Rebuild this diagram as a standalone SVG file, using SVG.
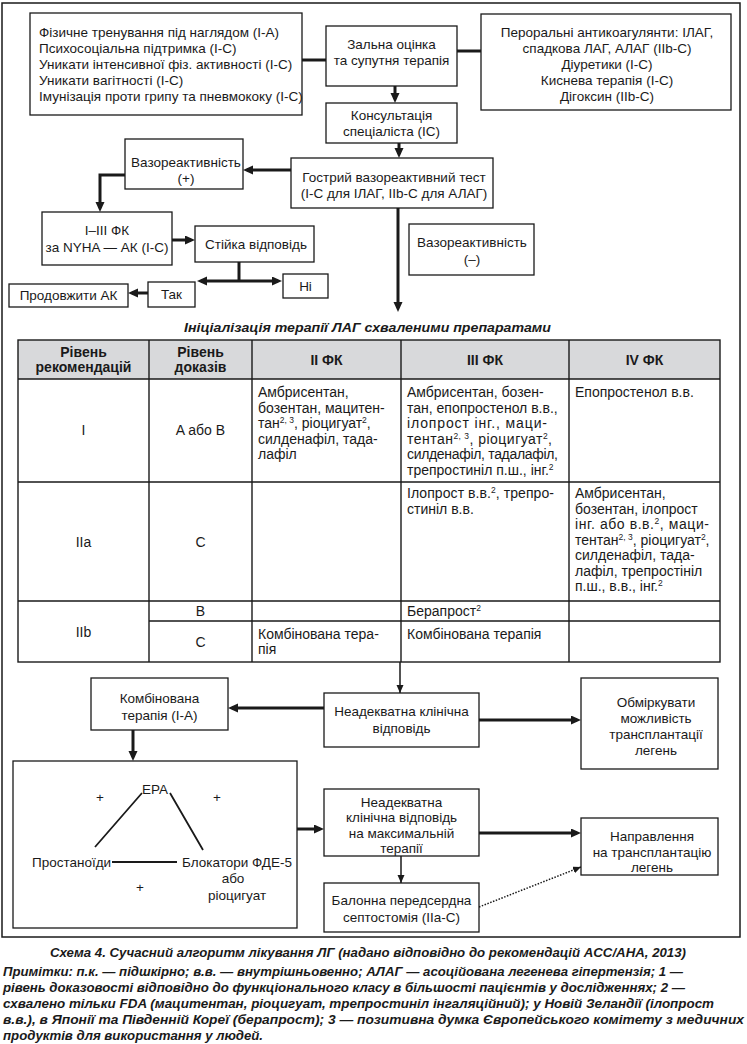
<svg xmlns="http://www.w3.org/2000/svg" width="747" height="1044" viewBox="0 0 747 1044">
<style>
.box{fill:#fff;stroke:#1a1a1a;stroke-width:1.3}
.t{font-family:"Liberation Sans",Arial,sans-serif;font-size:13.5px;fill:#1a1a1a}
.tt{font-size:14px}
.c{text-anchor:middle}
.b{font-weight:bold}
.bi{font-weight:bold;font-style:italic}
.cell{fill:none;stroke:#1a1a1a;stroke-width:1.4}
.k{fill:none;stroke:#1a1a1a;stroke-width:3}
.n{fill:none;stroke:#1a1a1a;stroke-width:1.5}
.tri{fill:none;stroke:#1a1a1a;stroke-width:1.8}
.sup{font-size:8.5px}
</style>
<defs>
<marker id="ah" markerUnits="userSpaceOnUse" markerWidth="11" markerHeight="10" refX="6" refY="4.5" orient="auto"><path d="M0,0 L10,4.5 L0,9 z" fill="#1a1a1a"/></marker>
<marker id="ahs" markerUnits="userSpaceOnUse" markerWidth="11" markerHeight="10" refX="6" refY="4.5" orient="auto-start-reverse"><path d="M0,0 L10,4.5 L0,9 z" fill="#1a1a1a"/></marker>
<marker id="at" markerUnits="userSpaceOnUse" markerWidth="9" markerHeight="8" refX="8" refY="3.5" orient="auto"><path d="M0,0 L8,3.5 L0,7 z" fill="#1a1a1a"/></marker>
</defs>
<rect x="0" y="0" width="747" height="1044" fill="#fff"/>
<rect x="2" y="3" width="738" height="934" fill="none" stroke="#1a1a1a" stroke-width="1.5"/>

<g id="connectors">
<path class="k" d="M302,60 H326"/>
<path class="k" d="M457,51 H481"/>
<path class="k" d="M395,86 V99" marker-end="url(#ah)"/>
<path class="k" d="M399,143 V154" marker-end="url(#ah)"/>
<path class="k" d="M291,170 H247" marker-end="url(#ah)"/>
<path class="k" d="M125,175 H100 V208" marker-end="url(#ah)"/>
<path class="k" d="M172,240 H191" marker-end="url(#ah)"/>
<path class="k" d="M239,262 V281"/>
<path class="k" d="M201,281 H278" marker-start="url(#ahs)" marker-end="url(#ah)"/>
<path class="k" d="M148,293 H132" marker-end="url(#ah)"/>
<path class="k" d="M398,208 V308" marker-end="url(#ah)"/>
<path class="n" d="M400,662 V693" marker-end="url(#at)"/>
<path class="k" d="M324,708 H232" marker-end="url(#ah)"/>
<path class="k" d="M479,720 H577" marker-end="url(#ah)"/>
<path class="k" d="M133,730 V757" marker-end="url(#ah)"/>
<path class="k" d="M297,829 H320" marker-end="url(#ah)"/>
<path class="k" d="M479,833 H577" marker-end="url(#ah)"/>
<path class="n" d="M401,856 V883" marker-end="url(#at)"/>
<path d="M479,907 L581,867" fill="none" stroke="#1a1a1a" stroke-width="1.5" stroke-dasharray="1.5 1.5" marker-end="url(#at)"/>
</g>

<g id="lifestyle">
<rect class="box" x="30" y="13" width="272" height="102"/>
<text class="t" x="39" y="37">Фізичне тренування під наглядом (I-A)</text>
<text class="t" x="39" y="53">Психосоціальна підтримка (I-C)</text>
<text class="t" x="39" y="69">Уникати інтенсивної фіз. активності (I-C)</text>
<text class="t" x="39" y="85">Уникати вагітності (I-C)</text>
<text class="t" x="39" y="101">Імунізація проти грипу та пневмококу (I-C)</text>
</g>
<g id="general">
<rect class="box" x="326" y="26" width="131" height="60"/>
<text class="t c" x="391.5" y="49">Зальна оцінка</text>
<text class="t c" x="391.5" y="65">та супутня терапія</text>
</g>
<g id="supportive">
<rect class="box" x="481" y="14" width="250" height="96"/>
<text class="t c" x="607" y="37">Пероральні антикоагулянти: ІЛАГ,</text>
<text class="t c" x="607" y="53">спадкова ЛАГ, АЛАГ (IIb-C)</text>
<text class="t c" x="607" y="69">Діуретики (I-C)</text>
<text class="t c" x="607" y="85">Киснева терапія (I-C)</text>
<text class="t c" x="607" y="101">Дігоксин (IIb-C)</text>
</g>
<g id="consult">
<rect class="box" x="326" y="103" width="131" height="40"/>
<text class="t c" x="391.5" y="120">Консультація</text>
<text class="t c" x="391.5" y="136">спеціаліста (IC)</text>
</g>
<g id="vasotest">
<rect class="box" x="291" y="158" width="202" height="50"/>
<text class="t c" x="394" y="182">Гострий вазореактивний тест</text>
<text class="t c" x="394" y="198">(I-C для ІЛАГ, IIb-C для АЛАГ)</text>
</g>
<g id="vasopos">
<rect class="box" x="125" y="139" width="118" height="50"/>
<text class="t c" x="186" y="167">Вазореактивність</text>
<text class="t c" x="186" y="183">(+)</text>
</g>
<g id="ccb">
<rect class="box" x="42" y="212" width="130" height="53"/>
<text class="t c" x="107" y="235">I–III ФК</text>
<text class="t c" x="107" y="252">за NYHA — АК (I-C)</text>
</g>
<g id="sustained">
<rect class="box" x="195" y="226" width="119" height="36"/>
<text class="t c" x="256" y="249">Стійка відповідь</text>
</g>
<g id="no">
<rect class="box" x="283" y="274" width="45" height="24"/>
<text class="t c" x="305.5" y="291">Ні</text>
</g>
<g id="yes">
<rect class="box" x="148" y="282" width="47" height="25"/>
<text class="t c" x="171.5" y="299">Так</text>
</g>
<g id="continue">
<rect class="box" x="9" y="284" width="119" height="23"/>
<text class="t c" x="68.5" y="300">Продовжити АК</text>
</g>
<g id="vasoneg">
<rect class="box" x="409" y="224" width="125" height="51"/>
<text class="t c" x="472" y="247">Вазореактивність</text>
<text class="t c" x="472" y="264">(–)</text>
</g>

<g id="table">
<text class="t bi" x="184" y="332" textLength="367" lengthAdjust="spacingAndGlyphs">Ініціалізація терапії ЛАГ схваленими препаратами</text>
<rect x="18" y="340" width="702" height="39" fill="#d8d9db"/>
<rect class="cell" x="18" y="340" width="702" height="322"/>
<path class="cell" d="M18,379 H720 M18,482 H720 M18,601 H720 M149,621 H720 M149,340 V662 M252,340 V662 M401,340 V662 M569,340 V662"/>
<text class="t tt c b" x="83.5" y="357">Рівень</text>
<text class="t tt c b" x="83.5" y="372">рекомендацій</text>
<text class="t tt c b" x="200.5" y="357">Рівень</text>
<text class="t tt c b" x="200.5" y="372">доказів</text>
<text class="t tt c b" x="326.5" y="365">II ФК</text>
<text class="t tt c b" x="485" y="365">III ФК</text>
<text class="t tt c b" x="644.5" y="365">IV ФК</text>

<text class="t tt c" x="83.5" y="435">I</text>
<text class="t tt c" x="200.5" y="435">A або B</text>
<text class="t tt" x="258" y="397">Амбрисентан,</text>
<text class="t tt" x="258" y="412.5">бозентан, мацитен-</text>
<text class="t tt" x="258" y="428">тан<tspan class="sup" dy="-5">2, 3</tspan><tspan dy="5">, ріоцигуат</tspan><tspan class="sup" dy="-5">2</tspan><tspan dy="5">,</tspan></text>
<text class="t tt" x="258" y="443.5">силденафіл, тада-</text>
<text class="t tt" x="258" y="459">лафіл</text>
<text class="t tt" x="407" y="397">Амбрисентан, бозен-</text>
<text class="t tt" x="407" y="412.5">тан, епопростенол в.в.,</text>
<text class="t tt" x="407" y="428" textLength="140" lengthAdjust="spacing">ілопрост інг., маци-</text>
<text class="t tt" x="407" y="443.5" textLength="145" lengthAdjust="spacing">тентан<tspan class="sup" dy="-5">2, 3</tspan><tspan dy="5">, ріоцигуат</tspan><tspan class="sup" dy="-5">2</tspan><tspan dy="5">,</tspan></text>
<text class="t tt" x="407" y="459" textLength="151" lengthAdjust="spacing">силденафіл, тадалафіл,</text>
<text class="t tt" x="407" y="474.5">трепростиніл п.ш., інг.<tspan class="sup" dy="-5">2</tspan></text>
<text class="t tt" x="575" y="397">Епопростенол в.в.</text>

<text class="t tt c" x="83.5" y="547">IIa</text>
<text class="t tt c" x="200.5" y="547">C</text>
<text class="t tt" x="407" y="498" textLength="147" lengthAdjust="spacing">Ілопрост в.в.<tspan class="sup" dy="-5">2</tspan><tspan dy="5">, трепро-</tspan></text>
<text class="t tt" x="407" y="513.5">стиніл в.в.</text>
<text class="t tt" x="575" y="498">Амбрисентан,</text>
<text class="t tt" x="575" y="513.5">бозентан, ілопрост</text>
<text class="t tt" x="575" y="529" textLength="134" lengthAdjust="spacing">інг. або в.в.<tspan class="sup" dy="-5">2</tspan><tspan dy="5">, маци-</tspan></text>
<text class="t tt" x="575" y="544.5">тентан<tspan class="sup" dy="-5">2, 3</tspan><tspan dy="5">, ріоцигуат</tspan><tspan class="sup" dy="-5">2</tspan><tspan dy="5">,</tspan></text>
<text class="t tt" x="575" y="560">силденафіл, тада-</text>
<text class="t tt" x="575" y="575.5">лафіл, трепростініл</text>
<text class="t tt" x="575" y="591">п.ш., в.в., інг.<tspan class="sup" dy="-5">2</tspan></text>

<text class="t tt c" x="83.5" y="637">IIb</text>
<text class="t tt c" x="200.5" y="616">B</text>
<text class="t tt c" x="200.5" y="647">C</text>
<text class="t tt" x="407" y="616">Берапрост<tspan class="sup" dy="-5">2</tspan></text>
<text class="t tt" x="258" y="639">Комбінована тера-</text>
<text class="t tt" x="258" y="654">пія</text>
<text class="t tt" x="407" y="639">Комбінована терапія</text>
</g>

<g id="combo">
<rect class="box" x="91" y="678" width="137" height="52"/>
<text class="t c" x="159.5" y="703">Комбінована</text>
<text class="t c" x="159.5" y="720">терапія (I-A)</text>
</g>
<g id="inadequate">
<rect class="box" x="324" y="693" width="155" height="54"/>
<text class="t c" x="401.5" y="716">Неадекватна клінічна</text>
<text class="t c" x="401.5" y="733">відповідь</text>
</g>
<g id="consider">
<rect class="box" x="581" y="678" width="137" height="91"/>
<text class="t c" x="656" y="707">Обміркувати</text>
<text class="t c" x="656" y="723">можливість</text>
<text class="t c" x="656" y="739">трансплантації</text>
<text class="t c" x="656" y="755">легень</text>
</g>
<g id="triangle">
<rect class="box" x="13" y="761" width="284" height="167"/>
<path class="tri" d="M142,793 L95,847 M170,793 L203,850 M112,862 H177"/>
<text class="t c" x="155" y="794">ЕРА</text>
<text class="t" x="32" y="867">Простаноїди</text>
<text class="t c" x="237" y="867">Блокатори ФДЕ-5</text>
<text class="t c" x="233" y="883">або</text>
<text class="t c" x="237" y="900">ріоцигуат</text>
<text class="t c" x="100" y="802">+</text>
<text class="t c" x="217" y="802">+</text>
<text class="t c" x="140" y="892">+</text>
</g>
<g id="inadequate-max">
<rect class="box" x="324" y="789" width="155" height="67"/>
<text class="t c" x="401.5" y="806.5">Неадекватна</text>
<text class="t c" x="401.5" y="822">клінічна відповідь</text>
<text class="t c" x="401.5" y="837.5">на максимальній</text>
<text class="t c" x="401.5" y="853">терапії</text>
</g>
<g id="referral">
<rect class="box" x="581" y="818" width="137" height="57"/>
<text class="t c" x="652" y="841">Направлення</text>
<text class="t c" x="652" y="857">на трансплантацію</text>
<text class="t c" x="652" y="872">легень</text>
</g>
<g id="septostomy">
<rect class="box" x="324" y="883" width="155" height="49"/>
<text class="t c" x="401.5" y="905">Балонна передсердна</text>
<text class="t c" x="401.5" y="922">септостомія (IIa-C)</text>
</g>

<g id="caption">
<text class="t bi" x="50" y="957" font-size="13" textLength="636" lengthAdjust="spacingAndGlyphs">Схема 4. Сучасний алгоритм лікування ЛГ (надано відповідно до рекомендацій ACC/AHA, 2013)</text>
<text class="t bi" x="3" y="976" font-size="13" textLength="680" lengthAdjust="spacingAndGlyphs">Примітки: п.к. — підшкірно; в.в. — внутрішньовенно; АЛАГ — асоційована легенева гіпертензія; 1 —</text>
<text class="t bi" x="3" y="992" font-size="13" textLength="682" lengthAdjust="spacingAndGlyphs">рівень доказовості відповідно до функціонального класу в більшості пацієнтів у дослідженнях; 2 —</text>
<text class="t bi" x="3" y="1008" font-size="13" textLength="711" lengthAdjust="spacingAndGlyphs">схвалено тільки FDA (мацитентан, ріоцигуат, трепростиніл інгаляційний); у Новій Зеландії (ілопрост</text>
<text class="t bi" x="3" y="1024" font-size="13" textLength="741" lengthAdjust="spacingAndGlyphs">в.в.), в Японії та Південній Кореї (берапрост); 3 — позитивна думка Європейського комітету з медичних</text>
<text class="t bi" x="3" y="1040" font-size="13" textLength="260" lengthAdjust="spacingAndGlyphs">продуктів для використання у людей.</text>
</g>
</svg>
